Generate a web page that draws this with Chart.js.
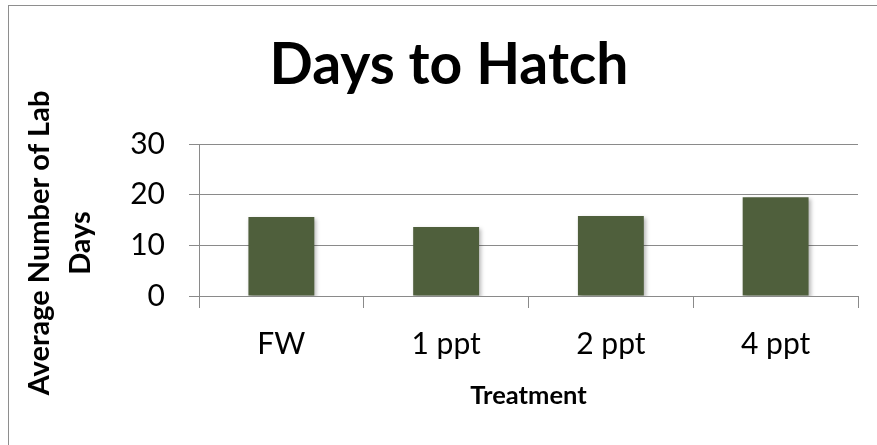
<!DOCTYPE html>
<html>
<head>
<meta charset="utf-8">
<title>Days to Hatch</title>
<script src="https://cdn.jsdelivr.net/npm/chart.js@4/dist/chart.umd.min.js"></script>
<style>
    html, body { margin: 0; padding: 0; background: #fff; }
    .chart-wrap { position: relative; width: 877px; height: 445px; overflow: hidden; }
    .chart-frame {
        position: absolute; left: 8px; top: 5px; width: 900px; height: 500px;
        border-left: 1.5px solid #8e8e8e; border-top: 1.5px solid #8e8e8e;
    }
    #hatchChart { position: absolute; left: 0; top: 0; }
</style>
</head>
<body>
<div class="chart-wrap">
    <div class="chart-frame"></div>
    <canvas id="hatchChart" width="877" height="445"></canvas>
</div>
<script>
// values
const treatments = ['FW', '1 ppt', '2 ppt', '4 ppt'];
const avgDays = [15.6, 13.6, 15.8, 19.5];
const yTicks = [0, 10, 20, 30];
const yTitleLines = ['Average Number of Lab', 'Days'];

const barColor = '#4F5F3C';
const lineColor = '#8a8a8a';
const fontFamily = 'Lato, "Open Sans", sans-serif';

// soft drop shadow under the bars, like the spreadsheet style
const barShadow = {
    id: 'barShadow',
    beforeDatasetsDraw(chart) {
        const ctx = chart.ctx;
        ctx.save();
        ctx.shadowColor = 'rgba(0,0,0,0.28)';
        ctx.shadowBlur = 4;
        ctx.shadowOffsetX = 2;
        ctx.shadowOffsetY = 2;
    },
    afterDatasetsDraw(chart) {
        chart.ctx.restore();
    },
};

// the y title sits a bit below the plot centre in the original,
// which the built-in scale title can't do
const yTitle = {
    id: 'yTitle',
    afterDraw(chart) {
        const { ctx, chartArea } = chart;
        const cy = (chartArea.top + chartArea.bottom) / 2 + 23;
        ctx.save();
        ctx.translate(40, cy);
        ctx.rotate(-Math.PI / 2);
        ctx.fillStyle = '#000';
        ctx.textAlign = 'center';
        ctx.textBaseline = 'middle';
        ctx.font = `bold 29px ${fontFamily}`;
        yTitleLines.forEach((line, i) => ctx.fillText(line, 0, i * 41));
        ctx.restore();
    },
};

const canvas = document.getElementById('hatchChart');

new Chart(canvas, {
    type: 'bar',
    data: {
        labels: treatments,
        datasets: [{
            label: 'Average Number of Lab Days',
            data: avgDays,
            backgroundColor: barColor,
            borderWidth: 0,
            categoryPercentage: 1,
            barPercentage: 0.4,
        }],
    },
    options: {
        responsive: false,
        animation: false,
        layout: {
            padding: { left: 21, right: 0, top: 0, bottom: 0 },
        },
        plugins: {
            legend: { display: false },
            tooltip: { enabled: false },
            title: {
                display: true,
                text: 'Days to Hatch',
                color: '#000',
                font: { family: fontFamily, size: 57, weight: 'bold', lineHeight: 1.2 },
                padding: { top: 31, bottom: 44.6 },
            },
        },
        scales: {
            x: {
                offset: true,
                grid: {
                    display: true,
                    offset: true,
                    drawOnChartArea: false,
                    drawTicks: true,
                    tickLength: 12,
                    color: lineColor,
                    lineWidth: 1,
                },
                border: { display: true, color: lineColor, width: 1 },
                ticks: {
                    color: '#000',
                    padding: 18,
                    font: { family: fontFamily, size: 30 },
                },
                title: {
                    display: true,
                    text: 'Treatment',
                    color: '#000',
                    font: { family: fontFamily, size: 25.5, weight: 'bold', lineHeight: 1.2 },
                    padding: { top: 10, bottom: 34 },
                },
                afterFit(scale) {
                    scale.height = 149;
                },
            },
            y: {
                min: 0,
                max: 30,
                afterBuildTicks(scale) {
                    scale.ticks = yTicks.map(value => ({ value }));
                },
                grid: {
                    color: lineColor,
                    lineWidth: 1,
                    drawTicks: true,
                    tickLength: 10,
                },
                border: { display: true, color: lineColor, width: 1 },
                ticks: {
                    color: '#000',
                    padding: 24,
                    font: { family: fontFamily, size: 30 },
                },
                title: { display: false },
                afterFit(scale) {
                    scale.width = 178;
                },
            },
            // empty right-hand spacer so the title centres like the original
            yRight: {
                position: 'right',
                display: true,
                grid: { display: false },
                border: { display: false },
                ticks: { display: false },
                afterFit(scale) {
                    scale.width = 19;
                },
            },
        },
    },
    plugins: [barShadow, yTitle],
});
</script>
</body>
</html>
